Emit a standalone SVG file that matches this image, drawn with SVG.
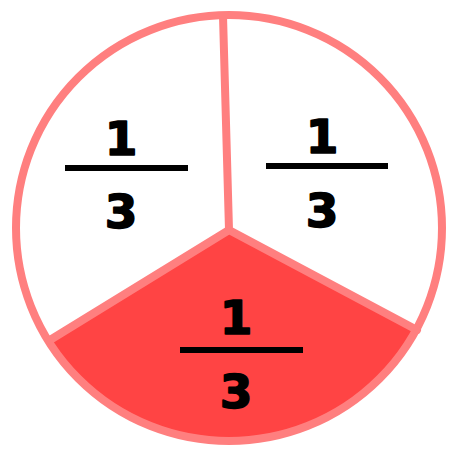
<svg xmlns="http://www.w3.org/2000/svg" width="453" height="451" viewBox="0 0 453 451">
<style>
.edge{fill:none;stroke:#ff7f7f;stroke-width:8;stroke-linecap:round;stroke-linejoin:round}
.num{font-family:"DejaVu Sans",sans-serif;font-weight:bold;font-size:47px;fill:#000;stroke:#000;stroke-width:1.6;stroke-linejoin:round;text-anchor:middle}
.bar{stroke:#000;stroke-width:6}
</style>
<rect width="453" height="451" fill="#fff"/>
<g id="sector-filled">
<path d="M229 230 L50 340 A213 213 0 0 0 417 330 Z" fill="#ff4444"/>
</g>
<g id="connectors">
<circle class="edge" cx="229" cy="228" r="213"/>
<path class="edge" d="M223 16 L229 230 L50 340 M229 230 L417 330"/>
</g>
<g id="frac-left">
<text class="num" x="121" y="155">1</text>
<line class="bar" x1="65" y1="168" x2="188" y2="168"/>
<text class="num" x="121" y="228">3</text>
</g>
<g id="frac-right">
<text class="num" x="322" y="153">1</text>
<line class="bar" x1="266" y1="166" x2="388" y2="166"/>
<text class="num" x="322" y="227">3</text>
</g>
<g id="frac-bottom">
<text class="num" x="236" y="334">1</text>
<line class="bar" x1="180" y1="350" x2="303" y2="350"/>
<text class="num" x="236" y="408">3</text>
</g>
</svg>
